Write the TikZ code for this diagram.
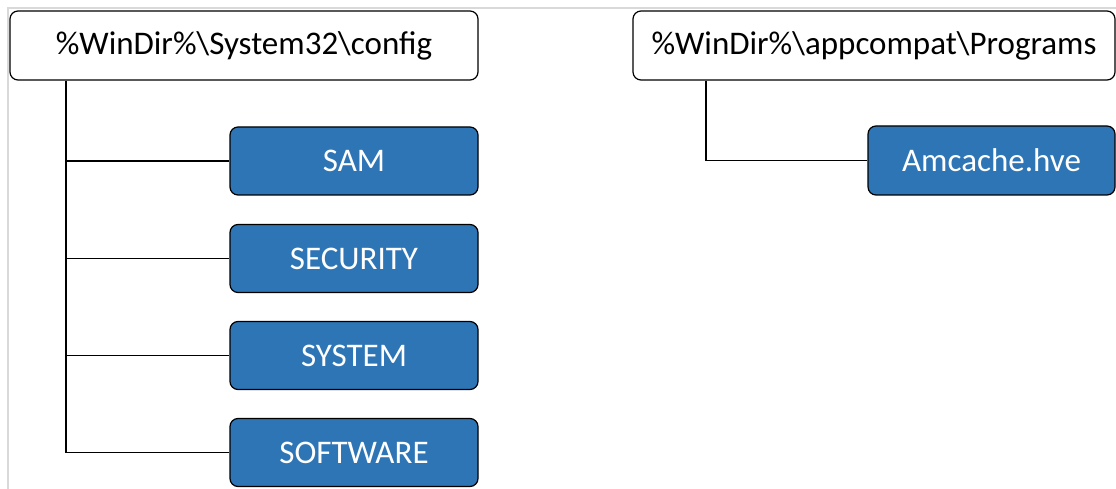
\documentclass[tikz,border=0pt]{standalone}
\usepackage{fontspec}
\setmainfont{Carlito}
\definecolor{boxblue}{HTML}{2E75B6}
\definecolor{framegray}{HTML}{D9D9D9}
\begin{document}
\begin{tikzpicture}[x=1pt,y=-1pt,
  folder/.style={draw=black, line width=1.2pt, rounded corners=8pt, fill=white,
    font=\fontsize{33}{38}\selectfont, text=black},
  hive/.style={draw=black, line width=1.2pt, rounded corners=8pt, fill=boxblue,
    font=\fontsize{33}{38}\selectfont, text=white},
  link/.style={draw=black, line width=1.2pt}]
\useasboundingbox (0,0) rectangle (1116,489);
% light page frame
\draw[framegray, line width=2pt] (8,489) -- (8,8) -- (1116,8);
% folders
\node[folder, minimum width=468pt, minimum height=69pt] (cfg) at (244,45.5) {\%WinDir\%\textbackslash System32\textbackslash config};
\node[folder, minimum width=482pt, minimum height=69pt] (app) at (874,45.5) {\%WinDir\%\textbackslash appcompat\textbackslash Programs};
% hives
\node[hive, minimum width=248pt, minimum height=68pt] (sam) at (354,161) {SAM};
\node[hive, minimum width=248pt, minimum height=68pt] (sec) at (354,258.5) {SECURITY};
\node[hive, minimum width=248pt, minimum height=68pt] (sys) at (354,355.5) {SYSTEM};
\node[hive, minimum width=248pt, minimum height=68pt] (sw) at (354,452.5) {SOFTWARE};
\node[hive, minimum width=247pt, minimum height=69pt] (amc) at (991.5,160.5) {Amcache.hve};
% tree connectors
\coordinate (trunk) at (66,0);
\draw[link] (cfg.south -| trunk) -- (sw.west -| trunk) -- (sw.west);
\draw[link] (sam.west -| trunk) -- (sam.west);
\draw[link] (sec.west -| trunk) -- (sec.west);
\draw[link] (sys.west -| trunk) -- (sys.west);
\coordinate (atrunk) at (706,0);
\draw[link] (app.south -| atrunk) -- (amc.west -| atrunk) -- (amc.west);
\end{tikzpicture}
\end{document}
